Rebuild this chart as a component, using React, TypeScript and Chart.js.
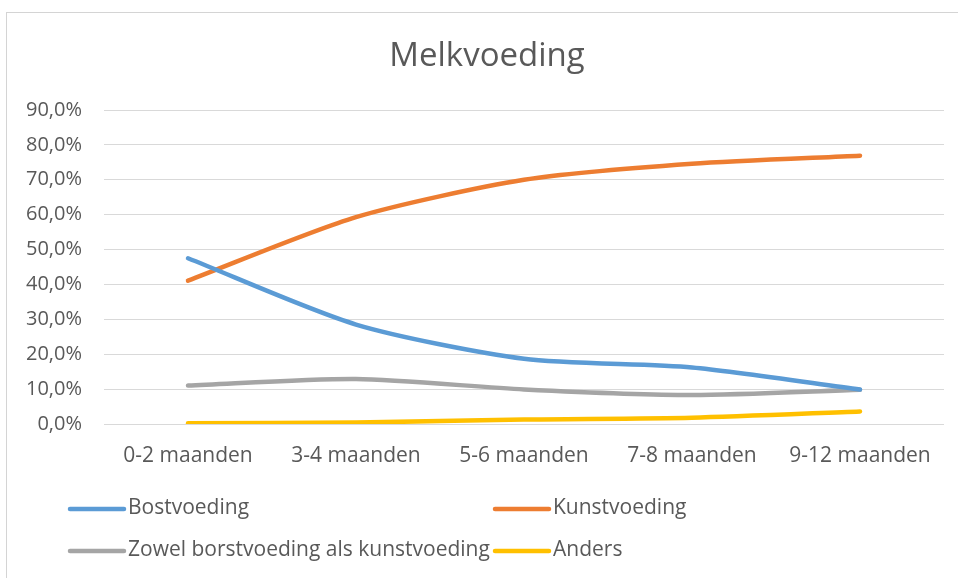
import React, { useEffect, useRef } from "react";
import { Chart, registerables } from "chart.js";

Chart.register(...registerables);

// Age groups on the category axis
const categories = ["0-2 maanden", "3-4 maanden", "5-6 maanden", "7-8 maanden", "9-12 maanden"];

// Share of infants per feeding type (percent)
const bostvoeding = [47.5, 28.5, 18.7, 16.2, 9.9];
const kunstvoeding = [41.1, 59.3, 70.0, 74.6, 76.9];
const zowelBeide = [11.0, 12.9, 9.9, 8.3, 9.8];
const anders = [0.2, 0.4, 1.3, 1.8, 3.6];

const seriesNames = ["Bostvoeding", "Kunstvoeding", "Zowel borstvoeding als kunstvoeding", "Anders"];
const seriesColors = ["#5b9bd5", "#ed7d31", "#a5a5a5", "#ffc000"];

// Value axis range and step (percent)
const yMin = 0;
const yMax = 90;
const yStep = 10;

const chartTitle = "Melkvoeding";

const FONT = "'Open Sans', sans-serif";
const TEXT_COLOR = "#595959";
const GRID_COLOR = "#d9d9d9";

// White background, thin outer frame and the chart heading
const framePlugin = {
  id: "frame",
  beforeDraw(chart: any) {
    const ctx = chart.ctx;
    ctx.save();
    ctx.fillStyle = "#ffffff";
    ctx.fillRect(0, 0, chart.width, chart.height);
    ctx.strokeStyle = "#d4d4d4";
    ctx.lineWidth = 1;
    ctx.strokeRect(6.5, 12.5, chart.width + 10, chart.height + 10);
    ctx.fillStyle = TEXT_COLOR;
    ctx.font = `33px ${FONT}`;
    ctx.textAlign = "center";
    ctx.textBaseline = "middle";
    ctx.fillText(chartTitle, 487, 57);
    ctx.restore();
  },
};

// Two-column legend below the plot
const legendPlugin = {
  id: "gridLegend",
  afterDraw(chart: any) {
    const ctx = chart.ctx;
    const slots = [
      [70, 508],
      [495, 508],
      [70, 550],
      [495, 550],
    ];
    ctx.save();
    chart.data.datasets.forEach((ds: any, i: number) => {
      const [x, y] = slots[i];
      ctx.strokeStyle = ds.borderColor;
      ctx.lineWidth = 4.5;
      ctx.lineCap = "round";
      ctx.beginPath();
      ctx.moveTo(x, y + 1);
      ctx.lineTo(x + 54, y + 1);
      ctx.stroke();
      ctx.fillStyle = TEXT_COLOR;
      ctx.font = `21px ${FONT}`;
      ctx.textBaseline = "middle";
      ctx.textAlign = "left";
      ctx.fillText(ds.label, x + 58, y);
    });
    ctx.restore();
  },
};

export default function App() {
  const canvasRef = useRef<HTMLCanvasElement | null>(null);

  useEffect(() => {
    document.body.style.margin = "0";
    const canvas = canvasRef.current;
    if (!canvas) return;
    const seriesData = [bostvoeding, kunstvoeding, zowelBeide, anders];
    const chart = new Chart(canvas, {
      type: "line",
      data: {
        labels: categories,
        datasets: seriesData.map((values, i) => ({
          label: seriesNames[i],
          data: values,
          borderColor: seriesColors[i],
          backgroundColor: seriesColors[i],
          borderWidth: 4.5,
          pointRadius: 0,
          tension: 0.25,
          fill: false,
          borderCapStyle: "round" as const,
        })),
      },
      options: {
        animation: false,
        responsive: false,
        maintainAspectRatio: false,
        layout: { padding: { left: 0, right: 14, top: 110, bottom: 0 } },
        plugins: {
          legend: { display: false },
          tooltip: { enabled: false },
          title: { display: false },
        },
        scales: {
          x: {
            offset: true,
            grid: { display: false, drawTicks: false },
            border: { display: false },
            ticks: {
              color: TEXT_COLOR,
              font: { family: FONT, size: 21 },
              padding: 19,
              maxRotation: 0,
              autoSkip: false,
            },
            afterFit(scale: any) {
              scale.height = 154;
            },
          },
          y: {
            min: yMin,
            max: yMax,
            grid: { color: GRID_COLOR, lineWidth: 1, drawTicks: false },
            border: { display: false },
            ticks: {
              stepSize: yStep,
              color: TEXT_COLOR,
              font: { family: FONT, size: 20 },
              padding: 22,
              callback: (v: any) => `${Number(v).toFixed(1).replace(".", ",")}%`,
            },
            afterFit(scale: any) {
              scale.width = 104;
            },
          },
        },
      },
      plugins: [framePlugin, legendPlugin],
    });
    return () => chart.destroy();
  }, []);

  return (
    <div style={{ position: "absolute", left: 0, top: 0, width: 958, height: 578 }}>
      <canvas ref={canvasRef} width={958} height={578} style={{ display: "block" }} />
    </div>
  );
}
